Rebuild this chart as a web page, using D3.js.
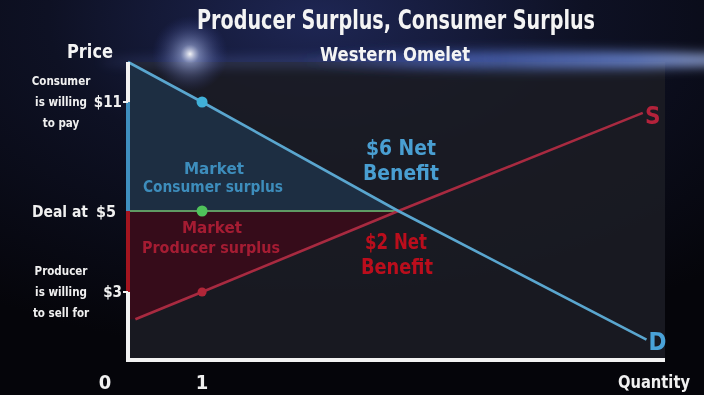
<!DOCTYPE html>
<html>
<head>
<meta charset="utf-8">
<script src="https://cdn.jsdelivr.net/npm/d3@7"></script>
<style>
  html, body { margin: 0; padding: 0; background: #07070c; }
  svg { display: block; }
  text { font-family: 'Liberation Sans Narrow', 'DejaVu Sans Condensed', 'Roboto', sans-serif; font-weight: bold; }
</style>
</head>
<body>
<svg id="chart" width="704" height="395"></svg>
<script>
// Demand and supply schedules (quantity, price)
const demandQty   = [0, 1, 3.65, 7];
const demandPrice = [13.2, 11, 5, 0.9];
const supplyQty   = [0.1, 1, 3.65, 6.95];
const supplyPrice = [1.8, 3, 5, 10.4];

// Equilibrium deal
const dealQty = 3.65;
const dealPrice = 5;

// Marked prices at the first unit
const markQty = [1, 1, 1];
const markPrice = [11, 5, 3];
const markKind = ["demand", "deal", "supply"];

// Price axis ticks with their side notes
const priceTicks = [11, 5, 3];
const priceTickLabels = ["$11", "$5", "$3"];
const priceNotes = [["Consumer", "is willing", "to pay"], ["Deal at"], ["Producer", "is willing", "to sell for"]];

// Quantity labels
const qtyTicks = [0, 1];
const qtyTickLabels = ["0", "1"];

const svg = d3.select("#chart");
const W = 704, H = 395;

// Schematic price axis: piecewise-linear so each labelled price sits where it is drawn
const x = d3.scaleLinear().domain([0, 7.25]).range([128, 665]);
const y = d3.scaleLinear().domain([0, 3, 5, 11, 13.2]).range([360, 292, 211, 102, 62]);

const defs = svg.append("defs");

const bg = defs.append("radialGradient").attr("id", "bgGrad")
  .attr("cx", "45%").attr("cy", "5%").attr("r", "85%");
bg.append("stop").attr("offset", "0%").attr("stop-color", "#1e2654");
bg.append("stop").attr("offset", "45%").attr("stop-color", "#0e1124");
bg.append("stop").attr("offset", "100%").attr("stop-color", "#05050a");

const flare = defs.append("radialGradient").attr("id", "flare");
flare.append("stop").attr("offset", "0%").attr("stop-color", "#ffffff").attr("stop-opacity", 0.95);
flare.append("stop").attr("offset", "25%").attr("stop-color", "#b8c8ff").attr("stop-opacity", 0.5);
flare.append("stop").attr("offset", "100%").attr("stop-color", "#3040a0").attr("stop-opacity", 0);

const streak = defs.append("linearGradient").attr("id", "streak").attr("x1", "0").attr("x2", "1");
streak.append("stop").attr("offset", "0%").attr("stop-color", "#3a50c0").attr("stop-opacity", 0);
streak.append("stop").attr("offset", "30%").attr("stop-color", "#5070d8").attr("stop-opacity", 0.55);
streak.append("stop").attr("offset", "75%").attr("stop-color", "#7a9af0").attr("stop-opacity", 0.8);
streak.append("stop").attr("offset", "100%").attr("stop-color", "#c8d8ff").attr("stop-opacity", 0.95);

const blur = defs.append("filter").attr("id", "blur").attr("x", "-20%").attr("y", "-200%").attr("width", "140%").attr("height", "500%");
blur.append("feGaussianBlur").attr("stdDeviation", 6);
const soft = defs.append("filter").attr("id", "soft");
soft.append("feGaussianBlur").attr("stdDeviation", 0.6);
const textSoft = defs.append("filter").attr("id", "textSoft");
textSoft.append("feGaussianBlur").attr("stdDeviation", 0.45);

// Backdrop
svg.append("rect").attr("width", W).attr("height", H).attr("fill", "url(#bgGrad)");

// Plot panel
svg.append("rect")
  .attr("x", x(0)).attr("y", y(13.2))
  .attr("width", x(7.25) - x(0)).attr("height", y(0) - y(13.2))
  .attr("fill", "#1b1c23").attr("opacity", 0.9);

// Light streak and flare across the top
svg.append("ellipse").attr("cx", 520).attr("cy", 60).attr("rx", 230).attr("ry", 9)
  .attr("fill", "url(#streak)").attr("filter", "url(#blur)");
svg.append("ellipse").attr("cx", 300).attr("cy", 62).attr("rx", 200).attr("ry", 4)
  .attr("fill", "#6a80d0").attr("opacity", 0.35).attr("filter", "url(#blur)");
svg.append("circle").attr("cx", 190).attr("cy", 54).attr("r", 38).attr("fill", "url(#flare)");

const pts = (qs, ps) => qs.map((q, i) => [q, ps[i]]);
const line = d3.line().x(d => x(d[0])).y(d => y(d[1]));

const demand = pts(demandQty, demandPrice);
const supply = pts(supplyQty, supplyPrice);

// Consumer surplus area: between demand and deal price
const csPoly = demand.filter(d => d[0] <= dealQty).concat([[0, dealPrice]]);
svg.append("path").attr("d", line(csPoly) + "Z").attr("fill", "#1e2f44").attr("opacity", 0.95);

// Producer surplus area: between deal price and supply
const psPoly = [[0, dealPrice], [dealQty, dealPrice]]
  .concat(supply.filter(d => d[0] <= dealQty).reverse())
  .concat([[0, supplyPrice[0]]]);
svg.append("path").attr("d", line(psPoly) + "Z").attr("fill", "#380c1a").attr("opacity", 0.95);

// Deal price line
svg.append("line")
  .attr("x1", x(0)).attr("x2", x(dealQty))
  .attr("y1", y(dealPrice)).attr("y2", y(dealPrice))
  .attr("stroke", "#5f9a63").attr("stroke-width", 2.2);

// Supply and demand curves
svg.append("path").attr("d", line(supply)).attr("fill", "none")
  .attr("stroke", "#a82a40").attr("stroke-width", 2.6).attr("filter", "url(#soft)");
svg.append("path").attr("d", line(demand)).attr("fill", "none")
  .attr("stroke", "#5aa6cf").attr("stroke-width", 2.6).attr("filter", "url(#soft)");

// Axes
const axisColor = "#f2f2f2";
svg.append("line").attr("x1", x(0)).attr("x2", x(0)).attr("y1", y(13.2)).attr("y2", y(0) + 2)
  .attr("stroke", axisColor).attr("stroke-width", 4);
svg.append("line").attr("x1", x(0)).attr("x2", x(0)).attr("y1", y(11)).attr("y2", y(5))
  .attr("stroke", "#3f8fbf").attr("stroke-width", 4);
svg.append("line").attr("x1", x(0)).attr("x2", x(0)).attr("y1", y(5)).attr("y2", y(3))
  .attr("stroke", "#a3151f").attr("stroke-width", 4);
svg.append("line").attr("x1", x(0) - 2).attr("x2", x(7.25)).attr("y1", y(0)).attr("y2", y(0))
  .attr("stroke", axisColor).attr("stroke-width", 4);

const txt = svg.append("g").attr("filter", "url(#textSoft)");

// Price ticks and labels
priceTicks.forEach((p, i) => {
  if (p !== dealPrice) {
    svg.append("line").attr("x1", x(0) - 5).attr("x2", x(0)).attr("y1", y(p)).attr("y2", y(p))
      .attr("stroke", axisColor).attr("stroke-width", 2);
  }
  const big = p === dealPrice;
  txt.append("text")
    .attr("x", big ? 116 : 122).attr("y", y(p) + (big ? 6 : 5))
    .attr("text-anchor", "end").attr("fill", "#f0f0f0")
    .attr("font-size", big ? 16 : 15)
    .text(priceTickLabels[i]);
  const notes = priceNotes[i];
  if (notes.length === 1) {
    txt.append("text").attr("x", 60).attr("y", y(p) + 6).attr("text-anchor", "middle")
      .attr("fill", "#f0f0f0").attr("font-size", 16)
      .attr("textLength", 56).attr("lengthAdjust", "spacingAndGlyphs").text(notes[0]);
  } else {
    notes.forEach((t, j) => {
      txt.append("text").attr("x", 61).attr("y", y(p) + (j - 1) * 21 + 4)
        .attr("text-anchor", "middle").attr("fill", "#f0f0f0").attr("font-size", 11.5).text(t);
    });
  }
});

// Marked points at quantity 1
const markColor = { demand: "#3fb0d8", deal: "#4fc25a", supply: "#b02638" };
markQty.forEach((q, i) => {
  svg.append("circle").attr("cx", x(q)).attr("cy", y(markPrice[i]))
    .attr("r", markKind[i] === "supply" ? 4.5 : 5.5)
    .attr("fill", markColor[markKind[i]]).attr("filter", "url(#soft)");
});

// Quantity labels
qtyTicks.forEach((q, i) => {
  txt.append("text").attr("x", q === 0 ? 105 : x(q)).attr("y", 389).attr("text-anchor", "middle")
    .attr("fill", "#f0f0f0").attr("font-size", 20).text(qtyTickLabels[i]);
});
txt.append("text").attr("x", 690).attr("y", 388).attr("text-anchor", "end")
  .attr("fill", "#f0f0f0").attr("font-size", 17)
  .attr("textLength", 72).attr("lengthAdjust", "spacingAndGlyphs").text("Quantity");
txt.append("text").attr("x", 90).attr("y", 58).attr("text-anchor", "middle")
  .attr("fill", "#f4f4f4").attr("font-size", 20)
  .attr("textLength", 46).attr("lengthAdjust", "spacingAndGlyphs").text("Price");

// Titles
txt.append("text").attr("x", 396).attr("y", 29).attr("text-anchor", "middle")
  .attr("fill", "#f4f4f4").attr("font-size", 26)
  .attr("textLength", 398).attr("lengthAdjust", "spacingAndGlyphs")
  .text("Producer Surplus, Consumer Surplus");
txt.append("text").attr("x", 395).attr("y", 61).attr("text-anchor", "middle")
  .attr("fill", "#f4f4f4").attr("font-size", 19)
  .attr("textLength", 150).attr("lengthAdjust", "spacingAndGlyphs")
  .text("Western Omelet");

// Region labels
const blueText = "#3d8dbc", redText = "#a51c33";
txt.append("text").attr("x", 214).attr("y", 174).attr("text-anchor", "middle")
  .attr("fill", blueText).attr("font-size", 16)
  .attr("textLength", 60).attr("lengthAdjust", "spacingAndGlyphs").text("Market");
txt.append("text").attr("x", 213).attr("y", 192).attr("text-anchor", "middle")
  .attr("fill", blueText).attr("font-size", 16)
  .attr("textLength", 140).attr("lengthAdjust", "spacingAndGlyphs").text("Consumer surplus");
txt.append("text").attr("x", 212).attr("y", 233).attr("text-anchor", "middle")
  .attr("fill", redText).attr("font-size", 16)
  .attr("textLength", 60).attr("lengthAdjust", "spacingAndGlyphs").text("Market");
txt.append("text").attr("x", 211).attr("y", 253).attr("text-anchor", "middle")
  .attr("fill", redText).attr("font-size", 16)
  .attr("textLength", 138).attr("lengthAdjust", "spacingAndGlyphs").text("Producer surplus");

// Net benefit labels
txt.append("text").attr("x", 401).attr("y", 155).attr("text-anchor", "middle")
  .attr("fill", "#4a9fd2").attr("font-size", 22)
  .attr("textLength", 70).attr("lengthAdjust", "spacingAndGlyphs").text("$6 Net");
txt.append("text").attr("x", 401).attr("y", 180).attr("text-anchor", "middle")
  .attr("fill", "#4a9fd2").attr("font-size", 22)
  .attr("textLength", 76).attr("lengthAdjust", "spacingAndGlyphs").text("Benefit");
txt.append("text").attr("x", 396).attr("y", 249).attr("text-anchor", "middle")
  .attr("fill", "#bb101c").attr("font-size", 21)
  .attr("textLength", 62).attr("lengthAdjust", "spacingAndGlyphs").text("$2 Net");
txt.append("text").attr("x", 397).attr("y", 274).attr("text-anchor", "middle")
  .attr("fill", "#bb101c").attr("font-size", 21)
  .attr("textLength", 72).attr("lengthAdjust", "spacingAndGlyphs").text("Benefit");

// Curve labels
txt.append("text").attr("x", x(supplyQty[3]) + 10).attr("y", y(supplyPrice[3]) + 11).attr("text-anchor", "middle")
  .attr("fill", "#b3213a").attr("font-size", 24).text("S");
txt.append("text").attr("x", x(demandQty[3]) + 11).attr("y", y(demandPrice[3]) + 10).attr("text-anchor", "middle")
  .attr("fill", "#4aa2d8").attr("font-size", 24).text("D");
</script>
</body>
</html>
